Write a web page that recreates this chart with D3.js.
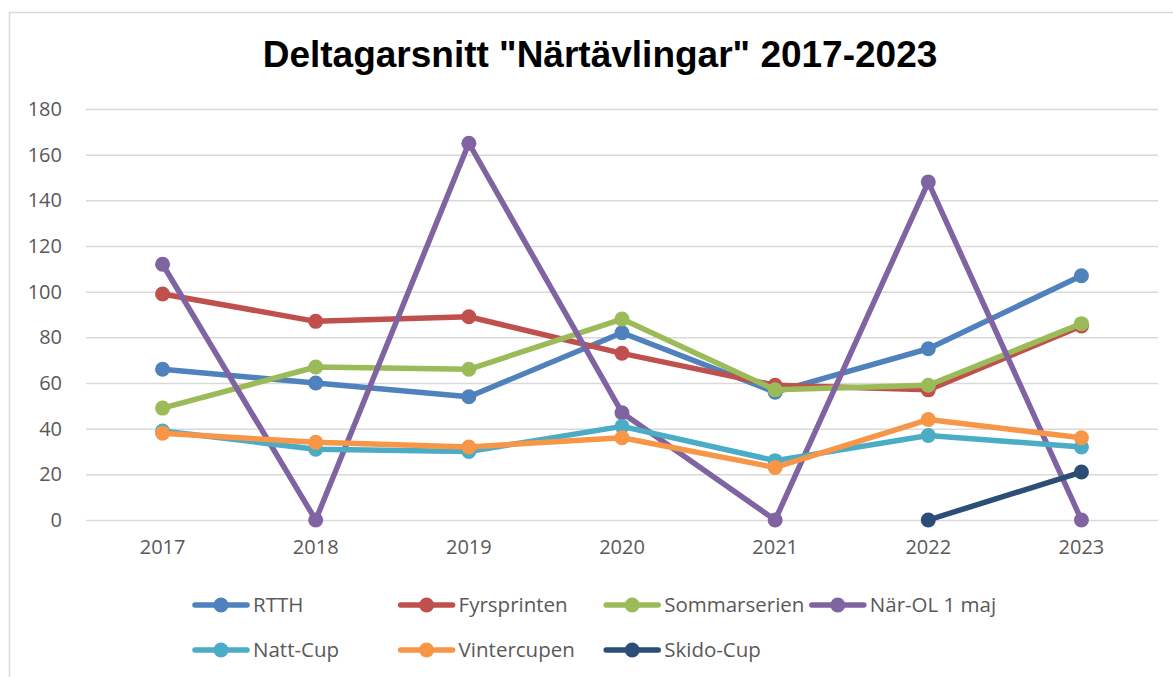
<!DOCTYPE html>
<html lang="sv">
<head>
<meta charset="UTF-8">
<title>Deltagarsnitt Närtävlingar</title>
<script src="https://d3js.org/d3.v7.min.js"></script>
<style>
  body { margin: 0; background: #fff; }
  svg { display: block; }
</style>
</head>
<body>
<svg id="chart" width="1173" height="677"></svg>
<script>
// data
var years = ["2017", "2018", "2019", "2020", "2021", "2022", "2023"];
var yTicks = [0, 20, 40, 60, 80, 100, 120, 140, 160, 180];

var rtth         = [66, 60, 54, 82, 56, 75, 107];
var fyrsprinten  = [99, 87, 89, 73, 59, 57, 85];
var sommarserien = [49, 67, 66, 88, 57, 59, 86];
var narOl        = [112, 0, 165, 47, 0, 148, 0];
var nattCup      = [39, 31, 30, 41, 26, 37, 32];
var vintercupen  = [38, 34, 32, 36, 23, 44, 36];
var skidoCup     = [null, null, null, null, null, 0, 21];

var seriesNames  = ["RTTH", "Fyrsprinten", "Sommarserien", "När-OL 1 maj", "Natt-Cup", "Vintercupen", "Skido-Cup"];
var seriesColors = ["#4f81bd", "#c0504d", "#9bbb59", "#8064a2", "#4bacc6", "#f79646", "#2c4d75"];
var seriesValues = [rtth, fyrsprinten, sommarserien, narOl, nattCup, vintercupen, skidoCup];

var series = seriesNames.map(function(n, i) {
  return { name: n, color: seriesColors[i], values: seriesValues[i] };
});

var svg = d3.select("#chart");

// chart frame (only left and top edges are inside the picture)
svg.append("rect")
  .attr("x", 9.5).attr("y", 12.5)
  .attr("width", 1200).attr("height", 700)
  .attr("fill", "none").attr("stroke", "#d9d9d9").attr("stroke-width", 1.5);

// title
svg.append("text")
  .attr("x", 600).attr("y", 67)
  .attr("text-anchor", "middle")
  .style("font-family", "'Liberation Sans', Arial, sans-serif")
  .style("font-weight", "bold")
  .style("font-size", "37px")
  .text('Deltagarsnitt "Närtävlingar" 2017-2023');

// plot area (note: "top" is a reserved window property, so other names here)
var plotLeft = 86, plotRight = 1158, plotTop = 109, plotBottom = 520;

var x = d3.scaleBand().domain(years).range([plotLeft, plotRight]);
var y = d3.scaleLinear().domain([0, 180]).range([plotBottom, plotTop]);

var font = "'Open Sans', 'Noto Sans', sans-serif";

// gridlines + y labels
var yAxis = svg.append("g")
  .attr("transform", "translate(" + plotLeft + ",0)")
  .call(d3.axisLeft(y).tickValues(yTicks).tickSize(-(plotRight - plotLeft)).tickPadding(24));
yAxis.select(".domain").remove();
yAxis.selectAll(".tick line").attr("stroke", "#d9d9d9").attr("stroke-width", 1.5);
yAxis.selectAll(".tick text")
  .attr("fill", "#595959")
  .style("font-family", font).style("font-size", "20px");

// x labels
var xAxis = svg.append("g")
  .attr("transform", "translate(0," + plotBottom + ")")
  .call(d3.axisBottom(x).tickSize(0).tickPadding(20));
xAxis.select(".domain").remove();
xAxis.selectAll(".tick text")
  .attr("fill", "#595959")
  .style("font-family", font).style("font-size", "20px");

var line = d3.line()
  .defined(function(d) { return d != null; })
  .x(function(d, i) { return x(years[i]) + x.bandwidth() / 2; })
  .y(function(d) { return y(d); });

series.forEach(function(s) {
  var g = svg.append("g");
  g.append("path")
    .attr("d", line(s.values))
    .attr("fill", "none")
    .attr("stroke", s.color)
    .attr("stroke-width", 5.5)
    .attr("stroke-linejoin", "round")
    .attr("stroke-linecap", "round");
  g.selectAll("circle")
    .data(s.values.map(function(v, i) { return { v: v, i: i }; })
      .filter(function(d) { return d.v != null; }))
    .enter().append("circle")
    .attr("cx", function(d) { return x(years[d.i]) + x.bandwidth() / 2; })
    .attr("cy", function(d) { return y(d.v); })
    .attr("r", 7.5)
    .attr("fill", s.color);
});

// legend
var legend = svg.append("g");
series.forEach(function(s, i) {
  var col = i < 4 ? i : i - 4;
  var lx = 193 + col * 205.6;
  var ly = i < 4 ? 605 : 650;
  var item = legend.append("g").attr("transform", "translate(" + lx + "," + ly + ")");
  item.append("line")
    .attr("x1", 2).attr("x2", 54).attr("y1", 0).attr("y2", 0)
    .attr("stroke", s.color).attr("stroke-width", 5.5).attr("stroke-linecap", "round");
  item.append("circle").attr("cx", 28).attr("cy", 0).attr("r", 7.5).attr("fill", s.color);
  item.append("text")
    .attr("x", 60).attr("y", 0).attr("dy", "0.35em")
    .attr("fill", "#595959")
    .style("font-family", font).style("font-size", "20.5px")
    .text(s.name);
});
</script>
</body>
</html>
